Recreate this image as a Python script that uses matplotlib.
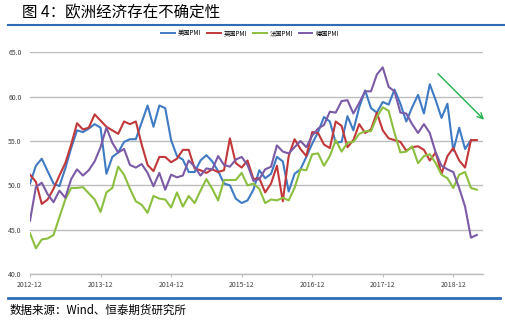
import matplotlib
matplotlib.use('Agg')
import matplotlib.pyplot as plt
from matplotlib.lines import Line2D

plt.rcParams['font.family'] = ['Noto Sans CJK SC', 'DejaVu Sans']

# 月度数据，2012-12 起
tick_labels = ['2012-12', '2013-12', '2014-12', '2015-12', '2016-12', '2017-12', '2018-12']
series_names = ['美国PMI', '英国PMI', '法国PMI', '德国PMI']

us_pmi = [50.2,
          52.2, 53.0, 51.6, 50.2, 49.9, 51.9, 54.2, 56.2, 56.0, 56.4, 56.9, 56.5,
          51.3, 53.2, 53.7, 54.9, 55.2, 55.2, 57.1, 59.0, 56.6, 59.0, 58.7, 55.1,
          53.3, 52.9, 51.5, 51.5, 52.8, 53.4, 52.7, 51.6, 50.2, 50.0, 48.5, 48.0,
          48.3, 49.5, 51.7, 50.8, 51.3, 53.2, 52.7, 49.3, 51.3, 51.8, 53.2, 54.7,
          56.0, 57.7, 57.2, 54.8, 54.9, 57.8, 56.2, 58.8, 60.7, 58.7, 58.2, 59.4,
          59.1, 60.8, 59.2, 57.2, 58.8, 60.2, 58.1, 61.4, 59.6, 57.6, 59.2, 53.9,
          56.5, 54.1, 55.1]

uk_pmi = [51.2,
          50.4, 47.9, 48.4, 49.6, 51.1, 52.5, 54.6, 57.0, 56.3, 56.5, 58.0, 57.3,
          56.6, 56.2, 55.8, 57.2, 56.9, 57.2, 54.6, 52.3, 51.6, 53.2, 53.2, 52.6,
          53.0, 54.0, 54.0, 51.9, 51.7, 51.4, 51.8, 51.5, 51.7, 55.3, 52.5, 52.0,
          52.8, 50.7, 50.8, 49.2, 50.2, 52.2, 48.2, 53.3, 55.2, 54.1, 53.3, 56.0,
          55.9, 54.6, 54.2, 57.2, 56.7, 54.3, 55.1, 56.9, 55.9, 56.3, 58.2, 56.2,
          55.3, 55.1, 54.9, 53.9, 54.3, 54.4, 54.0, 52.8, 53.7, 51.3, 53.3, 54.2,
          52.8, 52.0, 55.1, 55.1]

fr_pmi = [44.6,
          42.9, 43.9, 44.0, 44.4, 46.4, 48.4, 49.7, 49.7, 49.8, 49.1, 48.4, 47.0,
          49.2, 49.7, 52.1, 51.2, 49.6, 48.2, 47.8, 46.9, 48.8, 48.5, 48.4, 47.5,
          49.2, 47.6, 48.8, 48.0, 49.4, 50.7, 49.6, 48.3, 50.6, 50.6, 50.6, 51.4,
          50.0, 50.2, 49.6, 48.0, 48.4, 48.3, 48.6, 48.3, 49.7, 51.8, 51.7, 53.5,
          53.6, 52.2, 53.3, 55.1, 53.8, 54.8, 54.9, 55.8, 56.1, 56.1, 57.7, 58.8,
          58.4, 55.9, 53.7, 53.8, 54.4, 52.5, 53.3, 53.5, 52.5, 51.2, 50.8, 49.7,
          51.2, 51.5, 49.7, 49.5]

de_pmi = [46.0,
          49.8, 50.3, 49.0, 48.1, 49.4, 48.6, 50.7, 51.8, 51.1, 51.7, 52.7, 54.3,
          56.5, 54.8, 53.7, 54.1, 52.3, 52.0, 52.4, 51.4, 49.9, 51.4, 49.5, 51.2,
          50.9, 51.1, 52.8, 52.1, 51.1, 51.9, 51.8, 53.3, 52.3, 52.1, 52.9, 53.2,
          52.3, 50.5, 50.7, 51.8, 52.1, 54.5, 53.8, 53.6, 54.3, 55.0, 54.3, 55.6,
          56.4, 56.8, 58.3, 58.2, 59.5, 59.6, 58.1, 59.3, 60.6, 60.6, 62.5, 63.3,
          61.1, 60.6, 58.2, 58.1, 56.9, 55.9, 56.9, 55.9, 53.7, 52.2, 51.8, 51.5,
          49.7, 47.6, 44.1, 44.4]

colors = ['#3F7BC4', '#C2383A', '#8CBF3F', '#7B5AA6']
W, H = 506, 324

fig = plt.figure(figsize=(W / 100, H / 100), dpi=100)
ax = fig.add_axes([30 / W, 1 - 274 / H, 452.7 / W, 221.7 / H])

for vals, c, name in zip([us_pmi, uk_pmi, fr_pmi, de_pmi], colors, series_names):
    ax.plot(range(len(vals)), vals, color=c, linewidth=1.5, label=name)

ax.set_xlim(0, 77)
ax.set_ylim(40, 65)
ax.set_yticks([40, 45, 50, 55, 60, 65])
ax.set_yticklabels([f'{v:.1f}' for v in [40, 45, 50, 55, 60, 65]])
ax.set_xticks(range(0, 73, 12))
ax.set_xticklabels(tick_labels)
ax.grid(True, axis='y', color='#BDBDBD', linewidth=1.0)
ax.set_axisbelow(True)
for s in ['top', 'right', 'left']:
    ax.spines[s].set_visible(False)
ax.spines['bottom'].set_color('#BDBDBD')
ax.spines['bottom'].set_linewidth(1.0)
ax.tick_params(axis='y', length=0, labelsize=5, labelcolor='#404040', pad=6)
ax.tick_params(axis='x', length=2, color='#BDBDBD', labelsize=5, labelcolor='#404040', pad=3)

# 图例
handles = [Line2D([], [], color=c, linewidth=1.4) for c in colors]
fig.legend(handles, series_names, loc='center', bbox_to_anchor=(250 / W, 1 - 33.5 / H),
           ncol=4, frameon=False, fontsize=4.5, handlelength=2.2, handletextpad=0.5,
           columnspacing=0.9)

# 标题与分隔线
fig.text(22 / W, 1 - 13 / H, '图 4：欧洲经济存在不确定性', fontsize=11.2, va='center', ha='left')
fig.add_artist(Line2D([8 / W, 1.0], [1 - 24.5 / H] * 2, color='#2E6DB4', linewidth=1.5))
fig.add_artist(Line2D([8 / W, 500 / W], [1 - 297.5 / H] * 2, color='#2E6DB4', linewidth=2.0))
fig.text(10 / W, 1 - 310 / H, '数据来源：Wind、恒泰期货研究所', fontsize=8.3, va='center', ha='left')

# 下行箭头
ax.annotate('', xy=(486 / W, 1 - 121.7 / H), xytext=(436 / W, 1 - 71.7 / H),
            xycoords='figure fraction', textcoords='figure fraction',
            arrowprops=dict(arrowstyle='->', color='#22B04B', lw=1.0))

fig.savefig('out.png', dpi=100)
